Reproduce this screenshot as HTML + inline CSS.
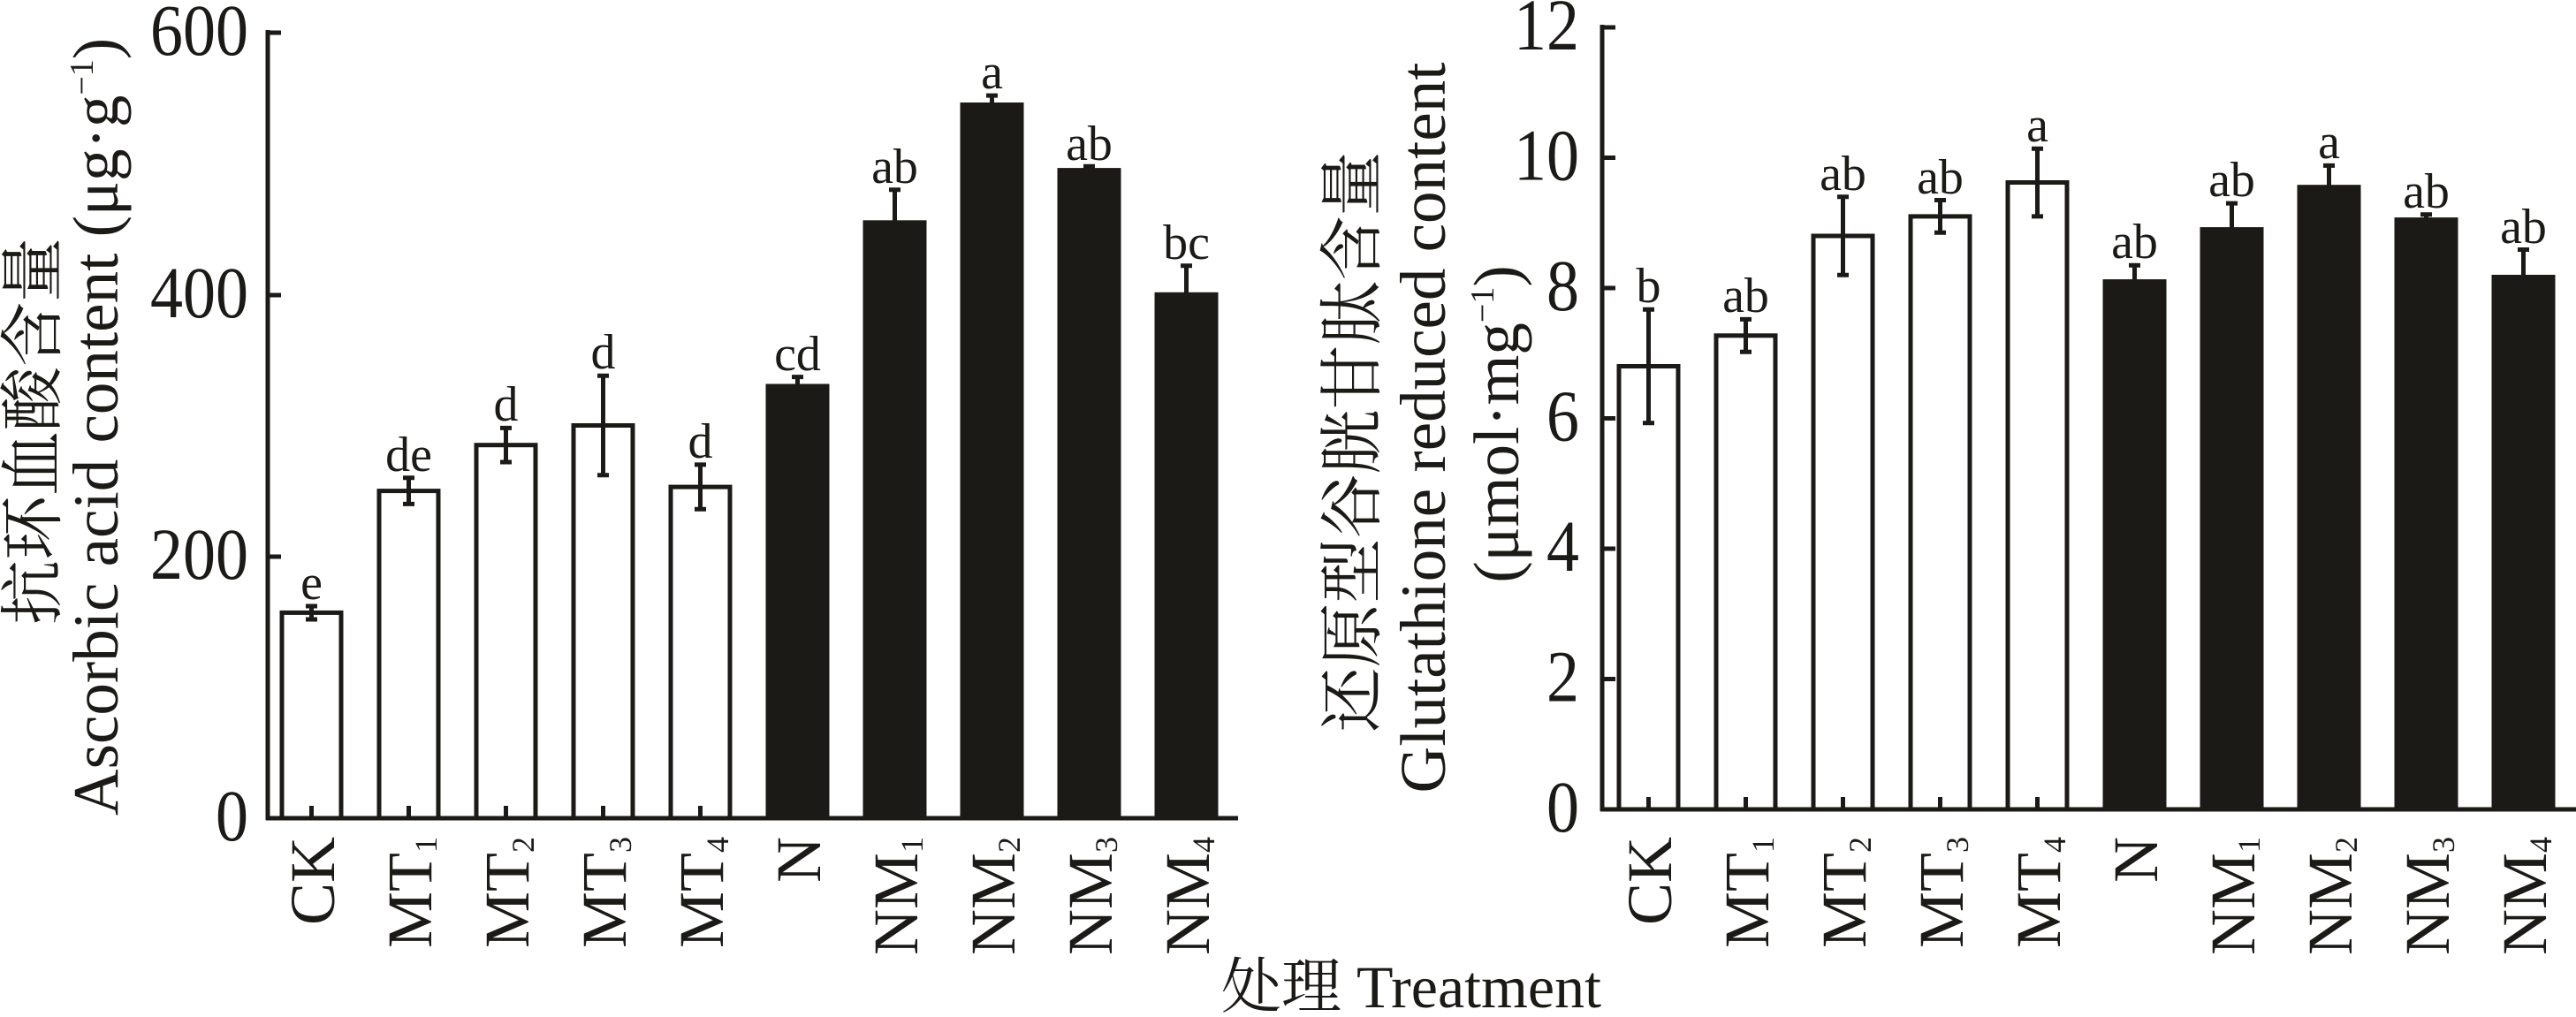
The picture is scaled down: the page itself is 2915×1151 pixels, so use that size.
<!DOCTYPE html>
<html><head><meta charset="utf-8"><style>
html,body{margin:0;padding:0;background:#fff;}
svg{display:block;}
text{font-family:"Liberation Serif","Noto Serif CJK SC",serif;fill:#1c1a17;}
</style></head><body>
<svg width="2915" height="1151" viewBox="0 0 2915 1151" xmlns="http://www.w3.org/2000/svg">
<g stroke="#1c1a17" stroke-width="5" fill="none">
<line x1="303" y1="34" x2="303" y2="928"/>
<line x1="301" y1="926" x2="1401" y2="926"/>
<line x1="303" y1="37" x2="318" y2="37"/>
<line x1="303" y1="334" x2="318" y2="334"/>
<line x1="303" y1="630" x2="318" y2="630"/>
<line x1="1813" y1="28" x2="1813" y2="918"/>
<line x1="1811" y1="916" x2="2915" y2="916"/>
<line x1="1813" y1="31" x2="1828" y2="31"/>
<line x1="1813" y1="178.5" x2="1828" y2="178.5"/>
<line x1="1813" y1="326" x2="1828" y2="326"/>
<line x1="1813" y1="473.5" x2="1828" y2="473.5"/>
<line x1="1813" y1="621" x2="1828" y2="621"/>
<line x1="1813" y1="768.5" x2="1828" y2="768.5"/>
</g>
<g stroke="#1c1a17" stroke-width="5">
<rect x="319" y="693.4" width="67" height="232.6" fill="#fff"/>
<rect x="429" y="555.6" width="67" height="370.4" fill="#fff"/>
<rect x="539" y="503.7" width="67" height="422.3" fill="#fff"/>
<rect x="649" y="481.5" width="67" height="444.5" fill="#fff"/>
<rect x="759" y="551.1" width="67" height="374.9" fill="#fff"/>
<rect x="869" y="437" width="67" height="489" fill="#1c1a17"/>
<rect x="979" y="251.8" width="67" height="674.2" fill="#1c1a17"/>
<rect x="1089" y="118.5" width="67" height="807.5" fill="#1c1a17"/>
<rect x="1199" y="192.6" width="67" height="733.4" fill="#1c1a17"/>
<rect x="1309" y="333.3" width="67" height="592.7" fill="#1c1a17"/>
</g>
<g stroke="#1c1a17" stroke-width="5" fill="none">
<path d="M352.5 926V912M462.5 926V912M572.5 926V912M682.5 926V912M792.5 926V912"/>
<path d="M352.5 686V701M346 686H359M346 701H359"/>
<path d="M462.5 540.8V570.4M456 540.8H469M456 570.4H469"/>
<path d="M572.5 484.4V523M566 484.4H579M566 523H579"/>
<path d="M682.5 425.2V537.8M676 425.2H689M676 537.8H689"/>
<path d="M792.5 525.9V576.3M786 525.9H799M786 576.3H799"/>
<path d="M902.5 426.6V437M896 426.6H909"/>
<path d="M1012.5 214.8V251.8M1006 214.8H1019"/>
<path d="M1122.5 108.1V118.5M1116 108.1H1129"/>
<path d="M1232.5 188.2V192.6M1226 188.2H1239"/>
<path d="M1342.5 300.7V333.3M1336 300.7H1349"/>
</g>
<g stroke="#1c1a17" stroke-width="5">
<rect x="1832" y="414.5" width="67" height="501.5" fill="#fff"/>
<rect x="1942" y="379.8" width="67" height="536.2" fill="#fff"/>
<rect x="2052" y="267" width="67" height="649" fill="#fff"/>
<rect x="2162" y="244.9" width="67" height="671.1" fill="#fff"/>
<rect x="2272" y="206.5" width="67" height="709.5" fill="#fff"/>
<rect x="2382" y="318.6" width="67" height="597.4" fill="#1c1a17"/>
<rect x="2492" y="259.6" width="67" height="656.4" fill="#1c1a17"/>
<rect x="2602" y="211.7" width="67" height="704.3" fill="#1c1a17"/>
<rect x="2712" y="248.6" width="67" height="667.4" fill="#1c1a17"/>
<rect x="2822" y="313.5" width="67" height="602.5" fill="#1c1a17"/>
</g>
<g stroke="#1c1a17" stroke-width="5" fill="none">
<path d="M1865.5 916V902M1975.5 916V902M2085.5 916V902M2195.5 916V902M2305.5 916V902"/>
<path d="M1865.5 350.3V478.7M1859 350.3H1872M1859 478.7H1872"/>
<path d="M1975.5 361.4V398.2M1969 361.4H1982M1969 398.2H1982"/>
<path d="M2085.5 222.8V311.3M2079 222.8H2092M2079 311.3H2092"/>
<path d="M2195.5 226.5V263.3M2189 226.5H2202M2189 263.3H2202"/>
<path d="M2305.5 168.2V244.9M2299 168.2H2312M2299 244.9H2312"/>
<path d="M2415.5 300.2V318.6M2409 300.2H2422"/>
<path d="M2525.5 230.1V259.6M2519 230.1H2532"/>
<path d="M2635.5 187.4V211.7M2629 187.4H2642"/>
<path d="M2745.5 242.7V248.6M2739 242.7H2752"/>
<path d="M2855.5 282.5V313.5M2849 282.5H2862"/>
</g>
<g font-size="74" text-anchor="end">
<text transform="translate(281,62) scale(1,1.12)">600</text>
<text transform="translate(281,359) scale(1,1.12)">400</text>
<text transform="translate(281,655) scale(1,1.12)">200</text>
<text transform="translate(281,951) scale(1,1.12)">0</text>
<text transform="translate(1787,56) scale(1,1.12)">12</text>
<text transform="translate(1787,203.5) scale(1,1.12)">10</text>
<text transform="translate(1787,351) scale(1,1.12)">8</text>
<text transform="translate(1787,498.5) scale(1,1.12)">6</text>
<text transform="translate(1787,646) scale(1,1.12)">4</text>
<text transform="translate(1787,793.5) scale(1,1.12)">2</text>
<text transform="translate(1787,941) scale(1,1.12)">0</text>
</g>
<g font-size="56" text-anchor="middle">
<text x="352.5" y="678">e</text>
<text x="462.5" y="533">de</text>
<text x="572.5" y="476">d</text>
<text x="682.5" y="417">d</text>
<text x="792.5" y="518">d</text>
<text x="902.5" y="419">cd</text>
<text x="1012.5" y="207">ab</text>
<text x="1122.5" y="100">a</text>
<text x="1232.5" y="181">ab</text>
<text x="1342.5" y="293">bc</text>
<text x="1865.5" y="342">b</text>
<text x="1975.5" y="353">ab</text>
<text x="2085.5" y="215">ab</text>
<text x="2195.5" y="219">ab</text>
<text x="2305.5" y="160">a</text>
<text x="2415.5" y="292">ab</text>
<text x="2525.5" y="222">ab</text>
<text x="2635.5" y="179">a</text>
<text x="2745.5" y="235">ab</text>
<text x="2855.5" y="275">ab</text>
</g>
<g font-size="72" text-anchor="end">
<text transform="translate(378,947) rotate(-90)">CK</text>
<text transform="translate(488,947) rotate(-90)">MT<tspan font-size="36" dy="6">1</tspan></text>
<text transform="translate(598,947) rotate(-90)">MT<tspan font-size="36" dy="6">2</tspan></text>
<text transform="translate(708,947) rotate(-90)">MT<tspan font-size="36" dy="6">3</tspan></text>
<text transform="translate(818,947) rotate(-90)">MT<tspan font-size="36" dy="6">4</tspan></text>
<text transform="translate(928,947) rotate(-90)">N</text>
<text transform="translate(1038,947) rotate(-90)">NM<tspan font-size="36" dy="6">1</tspan></text>
<text transform="translate(1148,947) rotate(-90)">NM<tspan font-size="36" dy="6">2</tspan></text>
<text transform="translate(1258,947) rotate(-90)">NM<tspan font-size="36" dy="6">3</tspan></text>
<text transform="translate(1368,947) rotate(-90)">NM<tspan font-size="36" dy="6">4</tspan></text>
<text transform="translate(1891,947) rotate(-90)">CK</text>
<text transform="translate(2001,947) rotate(-90)">MT<tspan font-size="36" dy="6">1</tspan></text>
<text transform="translate(2111,947) rotate(-90)">MT<tspan font-size="36" dy="6">2</tspan></text>
<text transform="translate(2221,947) rotate(-90)">MT<tspan font-size="36" dy="6">3</tspan></text>
<text transform="translate(2331,947) rotate(-90)">MT<tspan font-size="36" dy="6">4</tspan></text>
<text transform="translate(2441,947) rotate(-90)">N</text>
<text transform="translate(2551,947) rotate(-90)">NM<tspan font-size="36" dy="6">1</tspan></text>
<text transform="translate(2661,947) rotate(-90)">NM<tspan font-size="36" dy="6">2</tspan></text>
<text transform="translate(2771,947) rotate(-90)">NM<tspan font-size="36" dy="6">3</tspan></text>
<text transform="translate(2881,947) rotate(-90)">NM<tspan font-size="36" dy="6">4</tspan></text>
</g>
<g font-size="73" text-anchor="middle">
<text transform="translate(62,488) rotate(-90)">抗环血酸含量</text>
<text transform="translate(133,483) rotate(-90)">Ascorbic acid content (μg·g<tspan font-size="38" dy="-28">−1</tspan><tspan dy="28">)</tspan></text>
<text transform="translate(1555,500) rotate(-90)">还原型谷胱甘肽含量</text>
<text transform="translate(1635,484) rotate(-90)">Glutathione reduced content</text>
<text transform="translate(1718,480) rotate(-90)">(μmol·mg<tspan font-size="38" dy="-28">−1</tspan><tspan dy="28">)</tspan></text>
<text x="1597" y="1140" font-size="68">处理 Treatment</text>
</g>
</svg>
</body></html>
